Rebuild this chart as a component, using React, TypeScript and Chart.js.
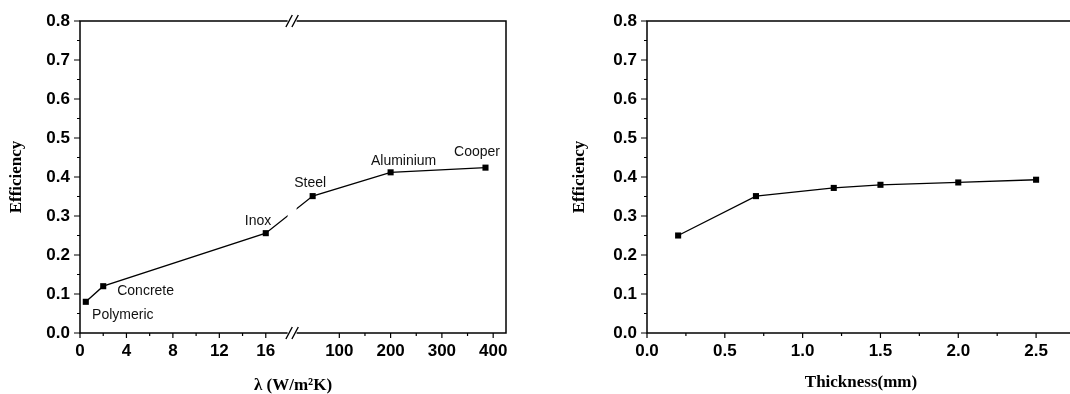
import React, { useEffect, useRef } from 'react';
import { Chart, registerables, LinearScale } from 'chart.js';

// ---------------- data ----------------
const materials = ['Polymeric', 'Concrete', 'Inox', 'Steel', 'Aluminium', 'Cooper'];
const conductivity = [0.5, 2, 16, 48, 200, 385];
const efficiencyByMaterial = [0.08, 0.12, 0.256, 0.351, 0.412, 0.424];

const thickness = [0.2, 0.7, 1.2, 1.5, 2.0, 2.5];
const efficiencyByThickness = [0.25, 0.351, 0.372, 0.38, 0.386, 0.393];

const efficiencyTicks = [0, 0.1, 0.2, 0.3, 0.4, 0.5, 0.6, 0.7, 0.8];
const efficiencyMinorTicks = [0.05, 0.15, 0.25, 0.35, 0.45, 0.55, 0.65, 0.75];
const conductivityTicks = [0, 4, 8, 12, 16, 100, 200, 300, 400];
const conductivityMinorTicks = [2, 6, 10, 14, 150, 250, 350];
const thicknessTicks = [0, 0.5, 1.0, 1.5, 2.0, 2.5];
const thicknessMinorTicks = [0.25, 0.75, 1.25, 1.75, 2.25];

// label placement relative to each point (pixels): [dx, dy] of text centre
const labelOffsets = [
  [37, 11.7],
  [42.4, 3.5],
  [-7.7, -12.8],
  [-2.5, -14],
  [13, -12.8],
  [-8.5, -16.7],
];

// ---------------- broken linear scale ----------------
class BrokenLinearScale extends LinearScale {
  static id = 'brokenLinear';
  seg(): any {
    return (this.options as any).segments;
  }
  getPixelForValue(value: number) {
    const s = this.seg();
    let f: number;
    if (value <= s.lowMax) {
      f = ((value - s.lowMin) / (s.lowMax - s.lowMin)) * s.lowEnd;
    } else {
      f = s.highStart + ((value - s.highMin) / (s.highMax - s.highMin)) * (1 - s.highStart);
    }
    return this.getPixelForDecimal(f);
  }
  getValueForPixel(pixel: number) {
    const s = this.seg();
    const f = this.getDecimalForPixel(pixel);
    if (f <= s.lowEnd) return s.lowMin + (f / s.lowEnd) * (s.lowMax - s.lowMin);
    return s.highMin + ((f - s.highStart) / (1 - s.highStart)) * (s.highMax - s.highMin);
  }
  getBreakPixel() {
    const s = this.seg();
    return this.getPixelForDecimal((s.lowEnd + s.highStart) / 2);
  }
}

Chart.register(...registerables, BrokenLinearScale as any);

const SANS = '"Liberation Sans", Arial, Helvetica, sans-serif';
const SERIF = '"Liberation Serif", "Times New Roman", serif';

function framePlugin(cfg: {
  xMajor: number[];
  xMinor: number[];
  yMajor: number[];
  yMinor: number[];
  showBreak?: boolean;
  labels?: string[];
}) {
  return {
    id: 'frameDecor',
    afterDraw(chart: any) {
      const { ctx, chartArea: a } = chart;
      const xs = chart.scales.x;
      const ys = chart.scales.y;
      ctx.save();
      ctx.strokeStyle = '#000';
      ctx.lineWidth = 1.5;
      ctx.strokeRect(a.left, a.top, a.right - a.left, a.bottom - a.top);
      ctx.lineWidth = 1.2;
      ctx.beginPath();
      cfg.xMajor.forEach((v) => {
        const p = xs.getPixelForValue(v);
        ctx.moveTo(p, a.bottom);
        ctx.lineTo(p, a.bottom + 5);
      });
      cfg.xMinor.forEach((v) => {
        const p = xs.getPixelForValue(v);
        ctx.moveTo(p, a.bottom);
        ctx.lineTo(p, a.bottom + 3);
      });
      cfg.yMajor.forEach((v) => {
        const p = ys.getPixelForValue(v);
        ctx.moveTo(a.left, p);
        ctx.lineTo(a.left - 6, p);
      });
      cfg.yMinor.forEach((v) => {
        const p = ys.getPixelForValue(v);
        ctx.moveTo(a.left, p);
        ctx.lineTo(a.left - 3, p);
      });
      ctx.stroke();

      if (cfg.showBreak && xs.getBreakPixel) {
        const cx = xs.getBreakPixel();
        ctx.fillStyle = '#fff';
        ctx.fillRect(cx - 4.5, a.top - 3, 9, a.bottom - a.top + 6);
        ctx.lineWidth = 1.4;
        ctx.beginPath();
        [a.top, a.bottom].forEach((yy: number) => {
          [-3, 3].forEach((d) => {
            ctx.moveTo(cx + d - 3.2, yy + 6);
            ctx.lineTo(cx + d + 3.2, yy - 6);
          });
        });
        ctx.stroke();
      }

      if (cfg.labels) {
        const meta = chart.getDatasetMeta(0);
        ctx.fillStyle = '#111';
        ctx.font = '14px ' + SANS;
        ctx.textAlign = 'center';
        ctx.textBaseline = 'alphabetic';
        cfg.labels.forEach((t, i) => {
          const el = meta.data[i];
          if (!el) return;
          const [dx, dy] = labelOffsets[i];
          ctx.fillText(t, el.x + dx, el.y + dy + 5);
        });
      }
      ctx.restore();
    },
  };
}

function commonY(yWidth: number, titlePad: number) {
  return {
    min: 0,
    max: 0.8,
    afterBuildTicks: (s: any) => {
      s.ticks = efficiencyTicks.map((v) => ({ value: v }));
    },
    afterFit: (s: any) => {
      s.width = yWidth;
    },
    grid: { display: false, drawTicks: false },
    border: { display: false },
    ticks: {
      autoSkip: false,
      padding: 10,
      color: '#000',
      font: { family: SANS, size: 17, weight: 'bold' as const },
      callback: (v: any) => Number(v).toFixed(1),
    },
    title: {
      display: true,
      text: 'Efficiency',
      color: '#000',
      font: { family: SERIF, size: 17, weight: 'bold' as const, lineHeight: 1 },
      padding: { top: titlePad, bottom: 0 },
    },
  };
}

const pointStyleOpts = {
  borderColor: '#000',
  borderWidth: 1.3,
  pointStyle: 'rect',
  pointRadius: 4.3,
  pointBackgroundColor: '#000',
  pointBorderColor: '#000',
  pointBorderWidth: 0,
  tension: 0,
};

function LeftChart() {
  const ref = useRef<HTMLCanvasElement>(null);
  useEffect(() => {
    const chart = new Chart(ref.current as HTMLCanvasElement, {
      type: 'line',
      data: {
        datasets: [
          {
            data: conductivity.map((x, i) => ({ x, y: efficiencyByMaterial[i] })),
            ...pointStyleOpts,
          } as any,
        ],
      },
      options: {
        animation: false,
        responsive: false,
        events: [],
        layout: { padding: { left: 0, top: 21, right: 34, bottom: 0 } },
        plugins: { legend: { display: false }, tooltip: { enabled: false } },
        scales: {
          x: {
            type: 'brokenLinear' as any,
            min: 0,
            max: 425,
            segments: {
              lowMin: 0,
              lowMax: 18,
              lowEnd: 0.4906,
              highMin: 14,
              highMax: 425,
              highStart: 0.5052,
            },
            afterBuildTicks: (s: any) => {
              s.ticks = conductivityTicks.map((v) => ({ value: v }));
            },
            afterFit: (s: any) => {
              s.height = 61;
            },
            grid: { display: false, drawTicks: false },
            border: { display: false },
            ticks: {
              autoSkip: false,
              maxRotation: 0,
              padding: 8,
              color: '#000',
              font: { family: SANS, size: 17, weight: 'bold' },
              callback: (v: any) => String(v),
            },
            title: {
              display: true,
              text: 'λ (W/m²K)',
              color: '#000',
              font: { family: SERIF, size: 17, weight: 'bold', lineHeight: 1 },
              padding: { top: 0, bottom: 0 },
            },
          } as any,
          y: commonY(80, 8.5) as any,
        },
      },
      plugins: [
        framePlugin({
          xMajor: conductivityTicks,
          xMinor: conductivityMinorTicks,
          yMajor: efficiencyTicks,
          yMinor: efficiencyMinorTicks,
          showBreak: true,
          labels: materials,
        }),
      ],
    });
    return () => chart.destroy();
  }, []);
  return (
    <canvas
      ref={ref}
      width={540}
      height={394}
      style={{ position: 'absolute', left: 0, top: 0, width: 540, height: 394 }}
    />
  );
}

function RightChart() {
  const ref = useRef<HTMLCanvasElement>(null);
  useEffect(() => {
    const chart = new Chart(ref.current as HTMLCanvasElement, {
      type: 'line',
      data: {
        datasets: [
          {
            data: thickness.map((x, i) => ({ x, y: efficiencyByThickness[i] })),
            ...pointStyleOpts,
          } as any,
        ],
      },
      options: {
        animation: false,
        responsive: false,
        events: [],
        layout: { padding: { left: 0, top: 21, right: 25, bottom: 0 } },
        plugins: { legend: { display: false }, tooltip: { enabled: false } },
        scales: {
          x: {
            type: 'linear',
            min: 0,
            max: 2.75,
            afterBuildTicks: (s: any) => {
              s.ticks = thicknessTicks.map((v) => ({ value: v }));
            },
            afterFit: (s: any) => {
              s.height = 61;
            },
            grid: { display: false, drawTicks: false },
            border: { display: false },
            ticks: {
              autoSkip: false,
              maxRotation: 0,
              padding: 8,
              color: '#000',
              font: { family: SANS, size: 17, weight: 'bold' },
              callback: (v: any) => Number(v).toFixed(1),
            },
            title: {
              display: true,
              text: 'Thickness(mm)',
              color: '#000',
              font: { family: SERIF, size: 17, weight: 'bold', lineHeight: 1 },
              padding: { top: 0, bottom: 2.5 },
            },
          } as any,
          y: commonY(107, 31.5) as any,
        },
      },
      plugins: [
        framePlugin({
          xMajor: thicknessTicks,
          xMinor: thicknessMinorTicks,
          yMajor: efficiencyTicks,
          yMinor: efficiencyMinorTicks,
        }),
      ],
    });
    return () => chart.destroy();
  }, []);
  return (
    <canvas
      ref={ref}
      width={560}
      height={394}
      style={{ position: 'absolute', left: 540, top: 0, width: 560, height: 394 }}
    />
  );
}

export default function App() {
  return (
    <div
      style={{
        position: 'absolute',
        left: 0,
        top: 0,
        width: 1070,
        height: 394,
        overflow: 'hidden',
        background: '#fff',
      }}
    >
      <LeftChart />
      <RightChart />
    </div>
  );
}
